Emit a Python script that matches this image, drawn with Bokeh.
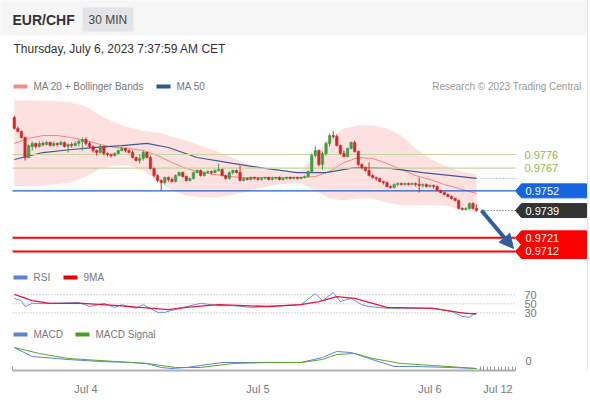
from bokeh.plotting import figure
from bokeh.models import (Range1d, Label, BoxAnnotation, FixedTicker, Arrow,
                          NormalHead, ColumnDataSource)
from bokeh.embed import file_html
from bokeh.resources import INLINE

# ---------------- data (30-minute candles, index 0 = Jul 3 14:00) ----------------
opens = [
    0.98004, 0.97932, 0.97912, 0.97872, 0.97740, 0.97813, 0.97833, 0.97813, 0.97833, 0.97826,
    0.97839, 0.97819, 0.97833, 0.97826, 0.97839, 0.97813, 0.97826, 0.97819, 0.97833, 0.97846,
    0.97859, 0.97833, 0.97813, 0.97786, 0.97773, 0.97813, 0.97767, 0.97760, 0.97753, 0.97767,
    0.97786, 0.97800, 0.97786, 0.97773, 0.97740, 0.97720, 0.97734, 0.97773, 0.97740, 0.97668,
    0.97621, 0.97588, 0.97575, 0.97608, 0.97595, 0.97582, 0.97621, 0.97641, 0.97615, 0.97588,
    0.97602, 0.97641, 0.97654, 0.97621, 0.97641, 0.97648, 0.97641, 0.97654, 0.97661, 0.97621,
    0.97602, 0.97641, 0.97654, 0.97641, 0.97588, 0.97602, 0.97595, 0.97608, 0.97602, 0.97595,
    0.97602, 0.97608, 0.97595, 0.97602, 0.97608, 0.97595, 0.97602, 0.97608, 0.97602, 0.97608,
    0.97602, 0.97608, 0.97615, 0.97648, 0.97753, 0.97786, 0.97694, 0.97767, 0.97833, 0.97885,
    0.97879, 0.97819, 0.97767, 0.97747, 0.97800, 0.97839, 0.97780, 0.97694, 0.97674, 0.97654,
    0.97621, 0.97608, 0.97602, 0.97582, 0.97575, 0.97549, 0.97542, 0.97562, 0.97569, 0.97562,
    0.97569, 0.97562, 0.97569, 0.97562, 0.97556, 0.97562, 0.97549, 0.97556, 0.97549, 0.97523,
    0.97509, 0.97496, 0.97483, 0.97470, 0.97457, 0.97404, 0.97397, 0.97404, 0.97437, 0.97404,
]
closes = [
    0.97932, 0.97912, 0.97872, 0.97740, 0.97819, 0.97833, 0.97813, 0.97833, 0.97826, 0.97839,
    0.97819, 0.97833, 0.97826, 0.97839, 0.97813, 0.97826, 0.97819, 0.97833, 0.97846, 0.97859,
    0.97833, 0.97813, 0.97786, 0.97773, 0.97813, 0.97767, 0.97760, 0.97753, 0.97767, 0.97786,
    0.97800, 0.97786, 0.97773, 0.97740, 0.97720, 0.97734, 0.97773, 0.97740, 0.97668, 0.97621,
    0.97588, 0.97575, 0.97608, 0.97595, 0.97582, 0.97621, 0.97641, 0.97615, 0.97588, 0.97602,
    0.97641, 0.97654, 0.97621, 0.97641, 0.97648, 0.97641, 0.97654, 0.97661, 0.97621, 0.97602,
    0.97641, 0.97654, 0.97641, 0.97588, 0.97602, 0.97595, 0.97608, 0.97602, 0.97595, 0.97602,
    0.97608, 0.97595, 0.97602, 0.97608, 0.97595, 0.97602, 0.97608, 0.97602, 0.97608, 0.97602,
    0.97608, 0.97615, 0.97648, 0.97753, 0.97786, 0.97694, 0.97767, 0.97833, 0.97885, 0.97879,
    0.97819, 0.97767, 0.97747, 0.97800, 0.97839, 0.97780, 0.97694, 0.97674, 0.97654, 0.97621,
    0.97608, 0.97602, 0.97582, 0.97575, 0.97549, 0.97542, 0.97562, 0.97569, 0.97562, 0.97569,
    0.97562, 0.97569, 0.97562, 0.97556, 0.97562, 0.97549, 0.97556, 0.97549, 0.97523, 0.97509,
    0.97496, 0.97483, 0.97470, 0.97457, 0.97404, 0.97397, 0.97404, 0.97437, 0.97404, 0.97391,
]
highs = [
    0.98017, 0.97945, 0.97918, 0.97879, 0.97826, 0.97846, 0.97839, 0.97846, 0.97846, 0.97852,
    0.97846, 0.97846, 0.97839, 0.97852, 0.97846, 0.97833, 0.97839, 0.97846, 0.97859, 0.97872,
    0.97872, 0.97846, 0.97819, 0.97793, 0.97826, 0.97819, 0.97773, 0.97767, 0.97773, 0.97793,
    0.97813, 0.97806, 0.97793, 0.97786, 0.97747, 0.97760, 0.97786, 0.97780, 0.97753, 0.97674,
    0.97628, 0.97595, 0.97615, 0.97615, 0.97608, 0.97628, 0.97648, 0.97648, 0.97621, 0.97608,
    0.97648, 0.97661, 0.97661, 0.97648, 0.97654, 0.97654, 0.97661, 0.97701, 0.97668, 0.97628,
    0.97648, 0.97661, 0.97661, 0.97687, 0.97608, 0.97608, 0.97615, 0.97615, 0.97608, 0.97608,
    0.97615, 0.97615, 0.97615, 0.97615, 0.97615, 0.97608, 0.97615, 0.97615, 0.97615, 0.97615,
    0.97615, 0.97621, 0.97654, 0.97767, 0.97813, 0.97793, 0.97780, 0.97846, 0.97899, 0.97912,
    0.97892, 0.97826, 0.97786, 0.97806, 0.97846, 0.97852, 0.97786, 0.97701, 0.97681, 0.97707,
    0.97628, 0.97615, 0.97608, 0.97588, 0.97582, 0.97556, 0.97569, 0.97575, 0.97575, 0.97575,
    0.97575, 0.97575, 0.97575, 0.97608, 0.97569, 0.97569, 0.97562, 0.97562, 0.97556, 0.97529,
    0.97516, 0.97503, 0.97490, 0.97477, 0.97463, 0.97411, 0.97411, 0.97444, 0.97444, 0.97430,
]
lows = [
    0.97925, 0.97905, 0.97866, 0.97720, 0.97734, 0.97786, 0.97800, 0.97806, 0.97813, 0.97819,
    0.97813, 0.97813, 0.97813, 0.97819, 0.97806, 0.97773, 0.97806, 0.97813, 0.97813, 0.97786,
    0.97819, 0.97800, 0.97773, 0.97753, 0.97767, 0.97753, 0.97747, 0.97740, 0.97747, 0.97760,
    0.97780, 0.97773, 0.97767, 0.97734, 0.97714, 0.97701, 0.97720, 0.97734, 0.97661, 0.97608,
    0.97575, 0.97523, 0.97562, 0.97582, 0.97575, 0.97575, 0.97615, 0.97608, 0.97582, 0.97582,
    0.97595, 0.97635, 0.97615, 0.97615, 0.97635, 0.97628, 0.97635, 0.97648, 0.97615, 0.97595,
    0.97595, 0.97628, 0.97635, 0.97582, 0.97582, 0.97588, 0.97588, 0.97595, 0.97588, 0.97588,
    0.97595, 0.97588, 0.97588, 0.97595, 0.97588, 0.97588, 0.97595, 0.97595, 0.97595, 0.97595,
    0.97595, 0.97602, 0.97608, 0.97641, 0.97740, 0.97681, 0.97661, 0.97753, 0.97813, 0.97866,
    0.97813, 0.97760, 0.97740, 0.97740, 0.97793, 0.97773, 0.97681, 0.97661, 0.97648, 0.97615,
    0.97602, 0.97588, 0.97575, 0.97562, 0.97542, 0.97536, 0.97536, 0.97549, 0.97556, 0.97556,
    0.97556, 0.97556, 0.97549, 0.97509, 0.97542, 0.97542, 0.97542, 0.97536, 0.97516, 0.97503,
    0.97490, 0.97477, 0.97463, 0.97450, 0.97397, 0.97391, 0.97391, 0.97397, 0.97397, 0.97384,
]

ma20_idx = [0, 4, 8, 12, 16, 20, 24, 28, 32, 36, 40, 44, 48, 52, 56, 60, 64, 72, 80, 84,
            88, 92, 96, 100, 104, 108, 112, 116, 120, 124, 129]
ma20 = [0.97833, 0.97866, 0.97885, 0.97885, 0.97872, 0.97852, 0.97826, 0.97806, 0.97800, 0.97786,
        0.97753, 0.97707, 0.97668, 0.97641, 0.97628, 0.97615, 0.97608, 0.97608, 0.97608, 0.97615,
        0.97648, 0.97707, 0.97740, 0.97734, 0.97701, 0.97661, 0.97621, 0.97595, 0.97562, 0.97536,
        0.97503]

bb_idx = [0, 8, 16, 20, 24, 28, 32, 36, 40, 44, 48, 52, 56, 60, 64, 68, 72, 76, 80, 84,
          88, 92, 96, 100, 104, 108, 112, 116, 120, 124, 129]
bb_upper = [0.98116, 0.98116, 0.98103, 0.98077, 0.98017, 0.97971, 0.97938, 0.97918, 0.97905, 0.97879,
            0.97852, 0.97819, 0.97786, 0.97747, 0.97707, 0.97674, 0.97654, 0.97641, 0.97654, 0.97753,
            0.97866, 0.97932, 0.97951, 0.97951, 0.97932, 0.97885, 0.97800, 0.97734, 0.97687, 0.97654,
            0.97628]
bb_lower = [0.97549, 0.97556, 0.97575, 0.97615, 0.97668, 0.97687, 0.97687, 0.97654, 0.97588, 0.97523,
            0.97490, 0.97477, 0.97477, 0.97490, 0.97509, 0.97536, 0.97556, 0.97569, 0.97569, 0.97523,
            0.97470, 0.97457, 0.97470, 0.97470, 0.97444, 0.97424, 0.97424, 0.97424, 0.97424, 0.97404,
            0.97377]

ma50_idx = [0, 8, 16, 22, 30, 37, 43, 51, 61, 70, 79, 87, 95, 105, 114, 122, 129]
ma50 = [0.97727, 0.97773, 0.97793, 0.97806, 0.97819, 0.97833, 0.97806, 0.97740, 0.97701, 0.97668,
        0.97641, 0.97641, 0.97674, 0.97668, 0.97641, 0.97621, 0.97602]

rsi_idx = [0, 2, 3, 5, 10, 18, 21, 25, 28, 30, 34, 36, 40, 42, 46, 52, 57, 61, 66, 75,
           80, 84, 86, 89, 91, 94, 97, 99, 104, 108, 117, 122, 125, 127, 128, 129]
rsi = [62, 57, 44, 51, 51, 53, 44, 51, 42, 48, 40, 48, 31, 31, 40, 51, 46, 46, 42, 46,
       48, 73, 57, 75, 55, 62, 48, 44, 40, 40, 40, 33, 22, 20, 26, 28]
rsi_ma_idx = [0, 5, 10, 19, 29, 35, 43, 48, 57, 71, 80, 85, 90, 95, 99, 104, 117, 124, 127, 129]
rsi_ma = [71, 57, 51, 51, 46, 42, 37, 42, 48, 44, 48, 55, 66, 62, 53, 42, 40, 31, 28, 28]

macd_idx = [0, 5, 15, 24, 33, 37, 41, 44, 48, 52, 58, 63, 71, 80, 86, 90, 94, 99, 106, 112, 122, 129]
macd = [0.00013, 0.00004, 0.00001, -0.00001, -0.00002, -0.00003, -0.00007, -0.00008, -0.00007,
        -0.00005, -0.00002, -0.00002, -0.00002, -0.00002, 0.00003, 0.00009, 0.00008, 0.00002,
        -0.00006, -0.00006, -0.00007, -0.00008]
signal_idx = [0, 7, 15, 24, 37, 45, 52, 61, 71, 80, 86, 90, 95, 100, 108, 117, 125, 129]
signal = [0.00013, 0.00007, 0.00002, 0.0, -0.00003, -0.00007, -0.00007, -0.00003, -0.00002,
          -0.00002, 0.00001, 0.00006, 0.00007, 0.00002, -0.00003, -0.00005, -0.00007, -0.00008]

levels_green = [0.9776, 0.9767]
level_blue = 0.9752
last_price = 0.9739
levels_red = [0.9721, 0.9712]
arrow_target = 0.9714
rsi_levels = [70, 50, 30]
day_ticks = [20, 68, 116, 135]
day_labels = ["Jul 4", "Jul 5", "Jul 6", "Jul 12"]

# ---------------- layout helpers (reference pixel -> data units) ----------------
W, H = 588, 398
PXC = 172 / 48          # pixels per candle
X0 = -13.8 / PXC
X1 = X0 + W / PXC
PPY = 15156.0           # pixels per price unit
P_TOP = 0.9776 + 154 / PPY
P_BOT = 0.9776 - 216 / PPY


def rx(x):
    return X0 + x / PXC


def ry(y):
    return P_TOP - y / PPY


FONT = "Liberation Sans"
GREEN = "#3f9b45"
RED = "#cc2a2a"

p = figure(width=W, height=H, x_range=Range1d(X0, X1), y_range=Range1d(P_BOT, P_TOP),
           output_backend="svg", toolbar_location=None, y_axis_location=None,
           min_border_left=0, min_border_right=0, min_border_top=0, min_border_bottom=H - 370)
p.extra_y_ranges = {"rsi": Range1d(-98.2, 70 + 294.3 / 0.45),
                    "macd": Range1d(-0.0001, 0.0036)}
p.grid.visible = False
p.outline_line_color = None
p.background_fill_color = "white"
p.border_fill_color = "white"

# header
p.add_layout(BoxAnnotation(left=rx(-10), right=rx(600), top=ry(-10), bottom=ry(35),
                           fill_color="#f6f6f6", fill_alpha=1, line_color=None))
p.add_layout(BoxAnnotation(left=rx(82), right=rx(133), top=ry(7), bottom=ry(31),
                           fill_color="#e2e4e7", fill_alpha=1, line_color=None))
p.add_layout(Label(x=rx(12), y=ry(19), text="EUR/CHF", text_font=FONT, text_font_size="14px",
                   text_font_style="bold", text_color="#333333", text_baseline="middle"))
p.add_layout(Label(x=rx(88), y=ry(19), text="30 MIN", text_font=FONT, text_font_size="12px",
                   text_color="#444444", text_baseline="middle"))
p.add_layout(Label(x=rx(13), y=ry(48), text="Thursday, July 6, 2023 7:37:59 AM CET",
                   text_font=FONT, text_font_size="12px", text_color="#333333",
                   text_baseline="middle"))


def legend_item(x, y, color, text):
    p.add_layout(BoxAnnotation(left=rx(x), right=rx(x + 14), top=ry(y - 2), bottom=ry(y + 2),
                               fill_color=color, fill_alpha=1, line_color=None))
    p.add_layout(Label(x=rx(x + 20), y=ry(y), text=text, text_font=FONT, text_font_size="10px",
                       text_color="#777777", text_baseline="middle"))


legend_item(13, 86, "#f28b86", "MA 20 + Bollinger Bands")
legend_item(156, 86, "#2f5597", "MA 50")
p.add_layout(Label(x=rx(581), y=ry(86), text="Research \u00a9 2023 Trading Central",
                   text_font=FONT, text_font_size="10px", text_color="#999999",
                   text_align="right", text_baseline="middle"))
legend_item(13, 277, "#5b84d6", "RSI")
legend_item(63, 277, "#ee0000", "9MA")
legend_item(13, 334, "#5b84d6", "MACD")
legend_item(75, 334, "#4c9e22", "MACD Signal")

# Bollinger band + moving averages
p.varea(x=bb_idx, y1=bb_lower, y2=bb_upper, fill_color="#fde1e1", fill_alpha=1)
p.line(ma20_idx, ma20, line_color="#f0857e", line_width=1)
p.line(ma50_idx, ma50, line_color="#3f5a92", line_width=1.2)

# horizontal price levels
xl0, xl1 = rx(12), rx(515)
for v in levels_green:
    p.line([xl0, xl1], [v, v], line_color="#c3d69e", line_width=1.2)
    p.add_layout(Label(x=rx(524), y=v, text=f"{v:.4f}", text_font=FONT, text_font_size="11px",
                       text_color="#8cb850", text_baseline="middle"))
p.line([xl0, xl1], [level_blue, level_blue], line_color="#1f5fd0", line_width=1.3)
for v in levels_red:
    p.line([xl0, xl1], [v, v], line_color="#ff0000", line_width=2)

p.line([rx(481), xl1], [last_price, last_price], line_color="#444444", line_width=1,
       line_dash="1 2")
p.line([rx(481), xl1], [ma50[-1], ma50[-1]], line_color="#7f8fb0", line_width=1,
       line_dash="1 2")

# candles
colors = [GREEN if c >= o else RED for o, c in zip(opens, closes)]
src = ColumnDataSource(dict(
    x=list(range(len(opens))), h=highs, l=lows,
    top=[max(o, c) for o, c in zip(opens, closes)],
    bottom=[min(o, c) for o, c in zip(opens, closes)],
    color=colors))
p.segment(x0="x", y0="l", x1="x", y1="h", line_color="color", line_width=1, source=src)
p.vbar(x="x", width=0.7, top="top", bottom="bottom", fill_color="color", line_color="color",
       line_width=0.5, source=src)


# price tags
def tag(v, color):
    h = 7 / PPY
    xs = [rx(515), rx(521), rx(586), rx(586), rx(521)]
    ys = [v, v + h, v + h, v - h, v - h]
    p.patch(xs, ys, fill_color=color, line_color=color)
    p.add_layout(Label(x=rx(525), y=v, text=f"{v:.4f}", text_font=FONT, text_font_size="11px",
                       text_color="white", text_baseline="middle"))


tag(level_blue, "#1565e0")
tag(last_price, "#333333")
for v in levels_red:
    tag(v, "#ff0000")

# forecast arrow
AC = "#2f5e9c"
p.add_layout(Arrow(end=NormalHead(size=14, fill_color=AC, line_color=AC),
                   x_start=rx(481), y_start=last_price, x_end=rx(513), y_end=arrow_target,
                   line_color=AC, line_width=4))

# RSI panel
for lv in rsi_levels:
    p.line([xl0, xl1], [lv, lv], y_range_name="rsi", line_color="#aaaaaa", line_width=1,
           line_dash="1 2")
    p.add_layout(Label(x=rx(524), y=lv, y_range_name="rsi", text=str(lv), text_font=FONT,
                       text_font_size="11px", text_color="#777777", text_baseline="middle"))
p.line(rsi_idx, rsi, y_range_name="rsi", line_color="#6a8fd8", line_width=1)
p.line(rsi_ma_idx, rsi_ma, y_range_name="rsi", line_color="#e5173f", line_width=1.3)

# MACD panel
p.line(macd_idx, macd, y_range_name="macd", line_color="#5b84d6", line_width=1)
p.line(signal_idx, signal, y_range_name="macd", line_color="#5aa52c", line_width=1)
p.add_layout(Label(x=rx(525), y=0, y_range_name="macd", text="0", text_font=FONT,
                   text_font_size="11px", text_color="#777777", text_baseline="middle"))

# right frame border of the widget
p.add_layout(BoxAnnotation(left=rx(586.5), right=rx(590), top=ry(-10), bottom=ry(410),
                           fill_color="#e6e6e6", fill_alpha=1, line_color=None))

# x axis
ax = p.xaxis[0]
ax.ticker = FixedTicker(ticks=day_ticks, minor_ticks=[-0.5] + list(range(130, 140)) + [140])
ax.major_label_overrides = {t: s for t, s in zip(day_ticks, day_labels)}
ax.bounds = (-0.5, 140)
ax.axis_line_color = "#b0b0b0"
ax.axis_line_width = 2
ax.major_tick_line_color = None
ax.minor_tick_line_color = "#999999"
ax.minor_tick_in = 4
ax.minor_tick_out = 0
ax.major_label_standoff = 6
ax.major_label_text_font = FONT
ax.major_label_text_font_size = "11px"
ax.major_label_text_color = "#777777"

open("out.html", "w").write(file_html(p, INLINE))
